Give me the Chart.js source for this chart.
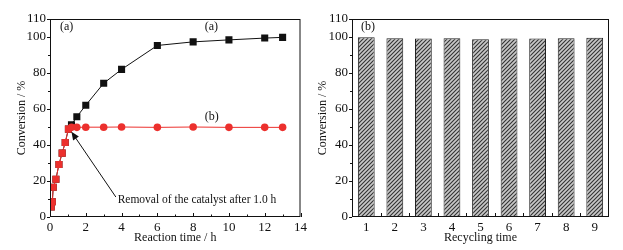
<!DOCTYPE html>
<html>
<head>
<meta charset="utf-8">
<script src="https://cdn.jsdelivr.net/npm/chart.js@4.4.1/dist/chart.umd.min.js"></script>
<style>
  body { margin: 0; background: #fff; }
  .wrap { position: relative; width: 623px; height: 250px; }
  #reaction-chart-box { position: absolute; left: 0; top: 0; width: 310px; height: 250px; }
  #recycle-chart-box { position: absolute; left: 310px; top: 0; width: 313px; height: 250px; }
</style>
</head>
<body>
<div class="wrap">
  <div id="reaction-chart-box"><canvas id="reaction-chart"></canvas></div>
  <div id="recycle-chart-box"><canvas id="recycle-chart"></canvas></div>
</div>
<script>
// (a) with catalyst the whole time
const timeA = [0.07, 0.13, 0.18, 0.33, 0.5, 0.68, 0.85, 1.03, 1.2, 1.5, 2, 3, 4, 6, 8, 10, 12, 13]
const conversionA = [5.6, 8.5, 16.5, 21, 29.2, 35.5, 41.4, 48.8, 51.2, 55.7, 62.1, 74.3, 82, 95.3, 97.3, 98.4, 99.4, 99.8]

// (b) catalyst removed after 1.0 h
const timeB = [0.07, 0.13, 0.18, 0.33, 0.5, 0.68, 0.85, 1.03, 1.2, 1.5, 2, 3, 4, 6, 8, 10, 12, 13]
const conversionB = [5.6, 8.5, 16.5, 21, 29.2, 35.5, 41.4, 48.8, 49.8, 49.8, 49.9, 49.9, 50, 49.8, 50, 49.8, 49.8, 49.8]

const recycleLabels = ['1', '2', '3', '4', '5', '6', '7', '8', '9']
const recycleConversion = [99.8, 99.3, 99.1, 99.3, 98.7, 99.1, 99.1, 99.3, 99.6]

const yTickValues = [0, 20, 40, 60, 80, 100, 110]
const yMinorValues = [10, 30, 50, 70, 90]
const xTickValues = [0, 2, 4, 6, 8, 10, 12, 14]
const xMinorValues = [1, 3, 5, 7, 9, 11, 13]

const serif = 'Liberation Serif'
const red = 'rgb(236, 48, 45)'

Chart.defaults.font.family = serif
Chart.defaults.color = '#111'


// box round the plot, y ticks outside, x ticks inside
function drawFrame(chart, xMajor, xMinor) {
  const {ctx, chartArea} = chart
  const {left, right, top, bottom} = chartArea
  const y = chart.scales.y
  ctx.save()
  ctx.strokeStyle = '#111'
  ctx.lineWidth = 1
  ctx.strokeRect(left + 0.5, top + 0.5, right - left - 1, bottom - top - 1)

  ctx.beginPath()
  yTickValues.forEach((v) => {
    const py = Math.round(y.getPixelForValue(v)) + 0.5
    ctx.moveTo(left, py)
    ctx.lineTo(left - 3, py)
  })
  yMinorValues.forEach((v) => {
    const py = Math.round(y.getPixelForValue(v)) + 0.5
    ctx.moveTo(left, py)
    ctx.lineTo(left - 2, py)
  })
  xMajor.forEach((px) => {
    px = Math.round(px) + 0.5
    ctx.moveTo(px, bottom)
    ctx.lineTo(px, bottom - 4)
  })
  xMinor.forEach((px) => {
    px = Math.round(px) + 0.5
    ctx.moveTo(px, bottom)
    ctx.lineTo(px, bottom - 2.5)
  })
  ctx.stroke()
  ctx.restore()
}

const reactionFrame = {
  id: 'reactionFrame',
  afterDraw(chart) {
    const x = chart.scales.x
    const y = chart.scales.y
    drawFrame(chart,
      xTickValues.map(v => x.getPixelForValue(v)),
      xMinorValues.map(v => x.getPixelForValue(v)))

    const {ctx} = chart
    ctx.save()
    ctx.font = '12px ' + serif
    ctx.fillStyle = '#111'
    ctx.textBaseline = 'middle'
    ctx.textAlign = 'left'
    ctx.fillText('(a)', chart.chartArea.left + 10, y.getPixelForValue(105.5))
    ctx.fillText('(a)', x.getPixelForValue(8.65), y.getPixelForValue(105.5))
    ctx.fillText('(b)', x.getPixelForValue(8.65), y.getPixelForValue(55.5))
    ctx.font = '11.5px ' + serif
    ctx.fillText('Removal of the catalyst after 1.0 h', x.getPixelForValue(3.78), y.getPixelForValue(9.3))

    // arrow to the point where the catalyst was taken out
    const tailX = x.getPixelForValue(3.68)
    const tailY = y.getPixelForValue(11.1)
    const headX = x.getPixelForValue(1.2)
    const headY = y.getPixelForValue(47.3)
    const ang = Math.atan2(headY - tailY, headX - tailX)
    ctx.strokeStyle = '#111'
    ctx.fillStyle = '#111'
    ctx.lineWidth = 1
    ctx.beginPath()
    ctx.moveTo(tailX, tailY)
    ctx.lineTo(headX - 4 * Math.cos(ang), headY - 4 * Math.sin(ang))
    ctx.stroke()
    ctx.beginPath()
    ctx.moveTo(headX, headY)
    ctx.lineTo(headX - 8 * Math.cos(ang) + 3.5 * Math.sin(ang), headY - 8 * Math.sin(ang) - 3.5 * Math.cos(ang))
    ctx.lineTo(headX - 8 * Math.cos(ang) - 3.5 * Math.sin(ang), headY - 8 * Math.sin(ang) + 3.5 * Math.cos(ang))
    ctx.closePath()
    ctx.fill()
    ctx.restore()
  }
}

const recycleFrame = {
  id: 'recycleFrame',
  afterDraw(chart) {
    const x = chart.scales.x
    const y = chart.scales.y
    const step = (chart.chartArea.right - chart.chartArea.left) / recycleLabels.length
    const bounds = []
    for (let i = 1; i < recycleLabels.length; i++) {
      bounds.push(x.getPixelForValue(i - 1) + step / 2)
    }
    drawFrame(chart, bounds, [])

    const {ctx} = chart
    ctx.save()
    ctx.font = '12px ' + serif
    ctx.fillStyle = '#111'
    ctx.textBaseline = 'middle'
    ctx.textAlign = 'left'
    ctx.fillText('(b)', chart.chartArea.left + 9, y.getPixelForValue(105.5))
    ctx.restore()
  }
}

const tickFont = { size: 13, family: serif }
const titleFont = { size: 12, family: serif }

const reactionCtx = document.getElementById('reaction-chart')

const reactionChart = new Chart(reactionCtx, {
  type: 'line',
  data: {
    datasets: [{
      label: '(b)',
      data: timeB.map((t, i) => ({ x: t, y: conversionB[i] })),
      borderColor: red,
      backgroundColor: red,
      borderWidth: 1,
      pointStyle: timeB.map((t, i) => i < 8 ? 'rect' : 'circle'),
      pointRadius: timeB.map((t, i) => i < 8 ? 5 : 3.8),
      pointBorderWidth: 0,
      order: 0
    }, {
      label: '(a)',
      data: timeA.map((t, i) => ({ x: t, y: conversionA[i] })),
      borderColor: '#111',
      backgroundColor: '#111',
      borderWidth: 1,
      pointStyle: 'rect',
      pointRadius: 5,
      pointBorderWidth: 0,
      order: 1
    }]
  },
  options: {
    animation: false,
    responsive: true,
    maintainAspectRatio: false,
    layout: { padding: { left: 0, right: 6, top: 19, bottom: 0 } },
    plugins: { legend: { display: false }, tooltip: { enabled: false } },
    scales: {
      x: {
        type: 'linear',
        min: 0,
        max: 14,
        afterBuildTicks: (scale) => { scale.ticks = xTickValues.map(v => ({ value: v })) },
        afterFit: (scale) => { scale.height = 33 },
        grid: { display: false, drawTicks: false },
        border: { display: false },
        ticks: { font: tickFont, padding: 3, maxRotation: 0 },
        title: { display: true, text: 'Reaction time / h', font: titleFont, padding: { top: 0, bottom: 5 } }
      },
      y: {
        min: 0,
        max: 110,
        afterBuildTicks: (scale) => { scale.ticks = yTickValues.map(v => ({ value: v })) },
        afterFit: (scale) => { scale.width = 50 },
        grid: { display: false, drawTicks: false },
        border: { display: false },
        ticks: { font: tickFont, padding: 4 },
        title: { display: true, text: 'Conversion / %', font: titleFont, padding: { top: 15, bottom: 0 } }
      }
    }
  },
  plugins: [reactionFrame]
})


// hatched fill for the bars
const hatch = document.createElement('canvas')
hatch.width = 4
hatch.height = 4
const hctx = hatch.getContext('2d')
hctx.fillStyle = '#c8c8c8'
hctx.fillRect(0, 0, 4, 4)
hctx.strokeStyle = '#333'
hctx.lineWidth = 1.1
hctx.beginPath()
hctx.moveTo(-1, 5)
hctx.lineTo(5, -1)
hctx.moveTo(-1, 1)
hctx.lineTo(1, -1)
hctx.moveTo(3, 5)
hctx.lineTo(5, 3)
hctx.stroke()
const hatchPattern = hctx.createPattern(hatch, 'repeat')

const recycleCtx = document.getElementById('recycle-chart')

const recycleChart = new Chart(recycleCtx, {
  type: 'bar',
  data: {
    labels: recycleLabels,
    datasets: [{
      label: 'Conversion',
      data: recycleConversion,
      backgroundColor: hatchPattern,
      borderColor: '#222',
      borderWidth: 1,
      barPercentage: 0.6,
      categoryPercentage: 0.98
    }]
  },
  options: {
    animation: false,
    responsive: true,
    maintainAspectRatio: false,
    layout: { padding: { left: 0, right: 14, top: 19, bottom: 0 } },
    plugins: { legend: { display: false }, tooltip: { enabled: false } },
    scales: {
      x: {
        afterFit: (scale) => { scale.height = 33 },
        grid: { display: false, drawTicks: false },
        border: { display: false },
        ticks: { font: tickFont, padding: 3, maxRotation: 0 },
        title: { display: true, text: 'Recycling time', font: titleFont, padding: { top: 0, bottom: 5 } }
      },
      y: {
        min: 0,
        max: 110,
        afterBuildTicks: (scale) => { scale.ticks = yTickValues.map(v => ({ value: v })) },
        afterFit: (scale) => { scale.width = 42 },
        grid: { display: false, drawTicks: false },
        border: { display: false },
        ticks: { font: tickFont, padding: 4 },
        title: { display: true, text: 'Conversion / %', font: titleFont, padding: { top: 6, bottom: 0 } }
      }
    }
  },
  plugins: [recycleFrame]
})
</script>
</body>
</html>
